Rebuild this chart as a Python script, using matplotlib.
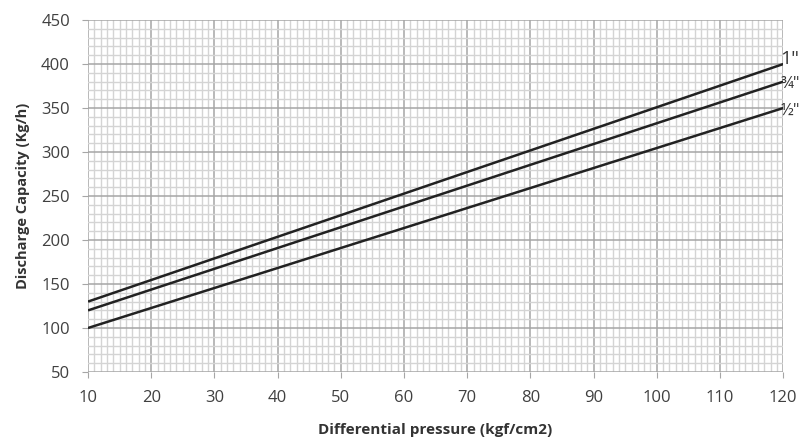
import numpy as np
import matplotlib.pyplot as plt
from matplotlib.ticker import MultipleLocator

# pressure range and discharge capacity for each valve size
pressure = [10, 120]
cap_1in = [130, 400]
cap_34in = [120, 380]
cap_12in = [100, 350]
sizes = ['1"', '¾"', '½"']

plt.rcParams['font.family'] = ['Open Sans', 'DejaVu Sans']

fig = plt.figure(figsize=(8, 4.41), dpi=100)
ax = fig.add_axes([0.11, 0.1565, 0.869, 0.798])

ax.set_xlim(10, 120)
ax.set_ylim(50, 450)
ax.xaxis.set_major_locator(MultipleLocator(10))
ax.xaxis.set_minor_locator(MultipleLocator(1))
ax.yaxis.set_major_locator(MultipleLocator(50))
ax.yaxis.set_minor_locator(MultipleLocator(10))

ax.grid(which='major', color='#a6a6a6', linewidth=1.1)
ax.grid(which='minor', color='#d4d4d4', linewidth=1.0)
ax.set_axisbelow(True)
for s in ax.spines.values():
    s.set_visible(False)

ax.tick_params(which='major', length=4, color='#a6a6a6', labelsize=12,
               labelcolor='#404040')
ax.tick_params(which='minor', length=0)
ax.tick_params(axis='x', pad=9)
ax.tick_params(axis='y', pad=9)

for y, lab, fs in zip([cap_1in, cap_34in, cap_12in], sizes, [14, 12, 12]):
    ax.plot(pressure, y, color='#222222', linewidth=1.8, solid_capstyle='butt')
    if fs > 13:
        ax.text(pressure[-1] - 0.4, y[-1], lab, fontsize=fs, color='#333333',
                ha='left', va='baseline', clip_on=False)
    else:
        ax.text(pressure[-1] - 0.45, y[-1] - 3, lab, fontsize=fs, color='#333333',
                ha='left', va='center', clip_on=False)

ax.set_xlabel('Differential pressure (kgf/cm2)', fontsize=11, fontweight='bold',
              color='#333333', labelpad=12)
ax.set_ylabel('Discharge Capacity (Kg/h)', fontsize=10.5, fontweight='bold',
              color='#333333', labelpad=8)

fig.savefig('out.png', dpi=100)
